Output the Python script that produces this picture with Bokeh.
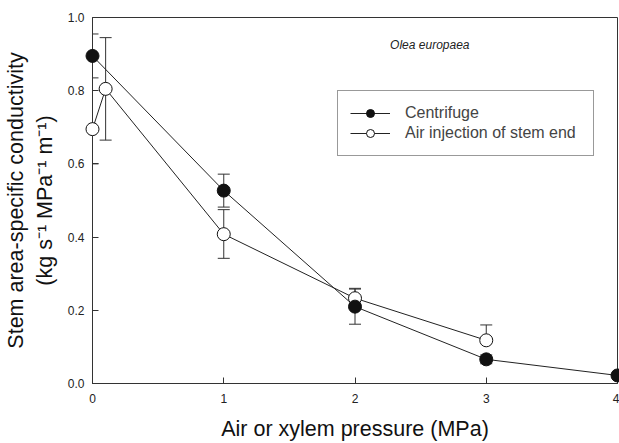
import numpy as np
from bokeh.plotting import figure
from bokeh.models import (ColumnDataSource, Whisker, TeeHead, Legend, LegendItem,
                          Label, FixedTicker, NumeralTickFormatter, Range1d)
from bokeh.embed import file_html
from bokeh.resources import INLINE

# Data
cent_x = [0, 1, 2, 3, 4]
cent_y = [0.895, 0.527, 0.210, 0.066, 0.022]
cent_err = [0.06, 0.045, 0.048, 0.012, 0.0]

air_x = [0, 0.1, 1, 2, 3]
air_y = [0.695, 0.805, 0.408, 0.233, 0.118]
air_lo = [0.600, 0.665, 0.342, 0.233, 0.118]
air_hi = [0.695, 0.945, 0.475, 0.260, 0.160]

FONT = "Liberation Sans"

p = figure(width=619, height=443, output_backend="svg", toolbar_location=None,
           x_range=Range1d(0, 4), y_range=Range1d(0, 1.0),
           min_border_left=92, min_border_right=2, min_border_top=17, min_border_bottom=60)
p.background_fill_color = "white"
p.border_fill_color = "white"
p.grid.visible = False
p.outline_line_color = "#333333"
p.outline_line_width = 1

for ax in (p.xaxis[0], p.yaxis[0]):
    ax.axis_line_color = "#333333"
    ax.major_tick_line_color = "#333333"
    ax.major_tick_in = 6
    ax.major_tick_out = 0
    ax.minor_tick_line_color = None
    ax.major_label_text_font = FONT
    ax.major_label_text_font_size = "12px"
    ax.major_label_text_color = "#222222"
    ax.axis_label_text_font = FONT
    ax.axis_label_text_font_style = "normal"
    ax.axis_label_text_font_size = "21.5px"
    ax.axis_label_text_color = "#111111"

p.xaxis.ticker = FixedTicker(ticks=[0, 1, 2, 3, 4])
p.yaxis.ticker = FixedTicker(ticks=[0, 0.2, 0.4, 0.6, 0.8, 1.0])
p.yaxis.formatter = NumeralTickFormatter(format="0.0")
p.xaxis.major_label_standoff = 10
p.yaxis.major_label_standoff = 8
p.xaxis.axis_label = "Air or xylem pressure (MPa)"
p.xaxis.axis_label_standoff = 11
p.yaxis.axis_label = "Stem area-specific conductivity\n(kg s\u207b\u00b9 MPa\u207b\u00b9 m\u207b\u00b9)"
p.yaxis.axis_label_standoff = 8

cent_src = ColumnDataSource(dict(x=cent_x, y=cent_y,
                                 lo=[y - e for y, e in zip(cent_y, cent_err)],
                                 hi=[y + e for y, e in zip(cent_y, cent_err)]))
air_src = ColumnDataSource(dict(x=air_x, y=air_y, lo=air_lo, hi=air_hi))

for src in (air_src, cent_src):
    w = Whisker(source=src, base="x", lower="lo", upper="hi",
                line_color="#333333", line_width=1,
                lower_head=TeeHead(size=12, line_color="#333333", line_width=1),
                upper_head=TeeHead(size=12, line_color="#333333", line_width=1))
    p.add_layout(w)

air_line = p.line("x", "y", source=air_src, line_color="#222222", line_width=1)
cent_line = p.line("x", "y", source=cent_src, line_color="#222222", line_width=1)
air_pts = p.scatter("x", "y", source=air_src, size=13, fill_color="white",
                    line_color="#111111", line_width=1)
cent_pts = p.scatter("x", "y", source=cent_src, size=13, fill_color="#111111",
                     line_color="#111111", line_width=1)
for r in (air_line, cent_line, air_pts, cent_pts):
    r.level = "overlay"

legend = Legend(items=[LegendItem(label="Centrifuge", renderers=[cent_line, cent_pts]),
                       LegendItem(label="Air injection of stem end", renderers=[air_line, air_pts])],
                location=(245, 227), glyph_width=40, glyph_height=20,
                label_text_font=FONT, label_text_font_size="16px",
                label_standoff=15, label_width=176, label_height=20,
                spacing=0, padding=12, margin=0,
                border_line_color="#333333", border_line_width=1,
                background_fill_alpha=1.0)
p.add_layout(legend)

p.add_layout(Label(x=2.57, y=0.926, text="Olea europaea", text_font=FONT,
                   text_font_style="italic", text_font_size="12px",
                   text_align="center", text_baseline="middle", text_color="#222222"))

open("out.html", "w").write(file_html(p, INLINE))
